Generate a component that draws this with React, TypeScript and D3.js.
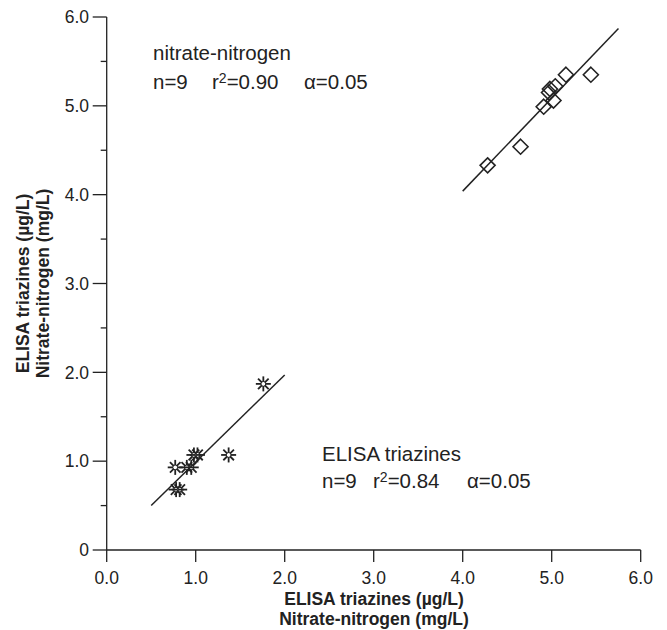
import React from "react";
import * as d3 from "d3";

const nitrateX = [4.28, 4.65, 4.91, 5.02, 4.97, 4.98, 5.04, 5.16, 5.44];
const nitrateY = [4.33, 4.54, 4.99, 5.06, 5.15, 5.19, 5.22, 5.35, 5.35];
const nitrateFit = [[4.0, 4.04], [5.75, 5.87]];

const triazX = [1.76, 1.37, 0.98, 1.02, 0.77, 0.9, 0.95, 0.78, 0.82];
const triazY = [1.87, 1.07, 1.07, 1.07, 0.93, 0.93, 0.93, 0.68, 0.68];
const triazFit = [[0.5, 0.5], [2.0, 1.97]];

const xTicks = [0, 1, 2, 3, 4, 5, 6];
const xTickLabels = ["0.0", "1.0", "2.0", "3.0", "4.0", "5.0", "6.0"];
const yTicks = [0, 1, 2, 3, 4, 5, 6];
const yTickLabels = ["0", "1.0", "2.0", "3.0", "4.0", "5.0", "6.0"];
const yMinorTicks = [0.5, 1.5, 2.5, 3.5, 4.5, 5.5];

const FONT = "'Liberation Sans', Arial, Helvetica, sans-serif";
const INK = "#222";

export default function App() {
  const W = 667, H = 630;
  const x = d3.scaleLinear().domain([0, 6]).range([106.7, 640.7]);
  const y = d3.scaleLinear().domain([0, 6]).range([550, 17]);
  const line = d3.line<number[]>().x((d) => x(d[0])).y((d) => y(d[1]));

  const star = (cx: number, cy: number, key: string) => {
    const rays = d3.range(8).map((i) => {
      const a = (i * Math.PI) / 4;
      return (
        <line
          key={i}
          x1={cx + 2.2 * Math.cos(a)}
          y1={cy + 2.2 * Math.sin(a)}
          x2={cx + 7.5 * Math.cos(a)}
          y2={cy + 7.5 * Math.sin(a)}
          stroke={INK}
          strokeWidth={1.8}
        />
      );
    });
    return (
      <g key={key}>
        {rays}
        <circle cx={cx} cy={cy} r={2.4} fill="none" stroke={INK} strokeWidth={1} />
      </g>
    );
  };

  const diamond = (cx: number, cy: number, key: string) => {
    const r = 7.5;
    return (
      <path
        key={key}
        d={`M${cx},${cy - r}L${cx + r},${cy}L${cx},${cy + r}L${cx - r},${cy}Z`}
        fill="none"
        stroke={INK}
        strokeWidth={1.6}
      />
    );
  };

  return (
    <svg width={W} height={H} style={{ display: "block", position: "absolute", left: 0, top: 0 }} fontFamily={FONT}>
      <rect width={W} height={H} fill="#fff" />
      {/* axes */}
      <line x1={x(0)} x2={x(6)} y1={y(0)} y2={y(0)} stroke={INK} strokeWidth={1.3} />
      <line x1={x(0)} x2={x(0)} y1={y(0)} y2={y(6)} stroke={INK} strokeWidth={1.3} />
      {xTicks.map((t, i) => (
        <g key={"xt" + i}>
          <line x1={x(t)} x2={x(t)} y1={y(0)} y2={y(0) + 12} stroke={INK} strokeWidth={1.3} />
          <text x={x(t)} y={584} textAnchor="middle" fontSize={17.5} fill={INK}>
            {xTickLabels[i]}
          </text>
        </g>
      ))}
      {yTicks.map((t, i) => (
        <g key={"yt" + i}>
          <line x1={x(0) - 14} x2={x(0)} y1={y(t)} y2={y(t)} stroke={INK} strokeWidth={1.3} />
          <text x={89} y={y(t) + 6.3} textAnchor="end" fontSize={17.5} fill={INK}>
            {yTickLabels[i]}
          </text>
        </g>
      ))}
      {yMinorTicks.map((t, i) => (
        <line key={"ym" + i} x1={x(0) - 6} x2={x(0)} y1={y(t)} y2={y(t)} stroke={INK} strokeWidth={1.3} />
      ))}
      {/* axis titles */}
      <text x={374} y={605} textAnchor="middle" fontSize={17.5} fontWeight="bold" fill={INK}>
        ELISA triazines (µg/L)
      </text>
      <text x={374} y={625} textAnchor="middle" fontSize={17.5} fontWeight="bold" fill={INK}>
        Nitrate-nitrogen (mg/L)
      </text>
      <g transform={`translate(29,${y(3)}) rotate(-90)`}>
        <text x={0} y={0} textAnchor="middle" fontSize={17.5} fontWeight="bold" fill={INK}>
          ELISA triazines (µg/L)
        </text>
        <text x={0} y={19.5} textAnchor="middle" fontSize={17.5} fontWeight="bold" fill={INK}>
          Nitrate-nitrogen (mg/L)
        </text>
      </g>
      {/* fit lines */}
      <path d={line(nitrateFit) || ""} fill="none" stroke={INK} strokeWidth={1.5} />
      <path d={line(triazFit) || ""} fill="none" stroke={INK} strokeWidth={1.5} />
      {/* points */}
      {nitrateX.map((v, i) => diamond(x(v), y(nitrateY[i]), "d" + i))}
      {triazX.map((v, i) => star(x(v), y(triazY[i]), "s" + i))}
      {/* annotations */}
      <text x={153} y={60} fontSize={20.5} fill={INK}>nitrate-nitrogen</text>
      <text y={89} fontSize={20.5} fill={INK}>
        <tspan x={153}>n=9</tspan>
        <tspan x={212}>r</tspan>
        <tspan fontSize={14} dy={-6}>2</tspan>
        <tspan dy={6}>=0.90</tspan>
        <tspan x={304}>α=0.05</tspan>
      </text>
      <text x={322} y={461} fontSize={20.5} fill={INK}>ELISA triazines</text>
      <text y={488} fontSize={20.5} fill={INK}>
        <tspan x={322}>n=9</tspan>
        <tspan x={373}>r</tspan>
        <tspan fontSize={14} dy={-6}>2</tspan>
        <tspan dy={6}>=0.84</tspan>
        <tspan x={467}>α=0.05</tspan>
      </text>
    </svg>
  );
}
